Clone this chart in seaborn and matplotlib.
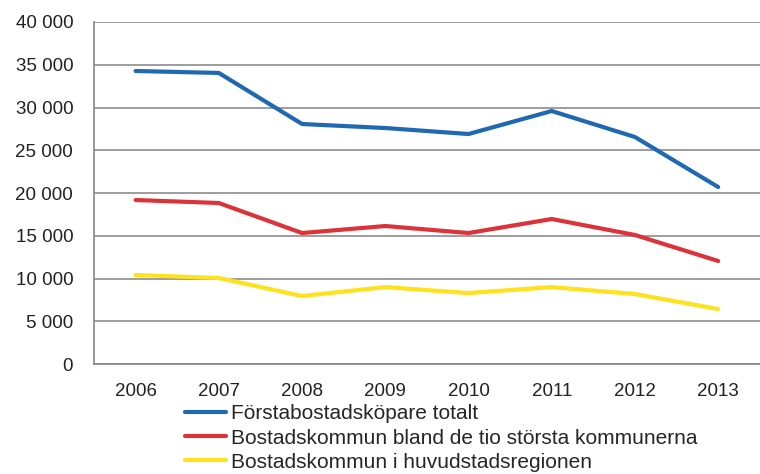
import matplotlib
matplotlib.use("Agg")
import matplotlib.pyplot as plt
import seaborn as sns
import pandas as pd
from matplotlib.ticker import FuncFormatter, FixedLocator

# Data
years = ["2006", "2007", "2008", "2009", "2010", "2011", "2012", "2013"]
totalt = [34270, 34040, 28070, 27600, 26900, 29590, 26550, 20700]
tio_storsta = [19180, 18830, 15320, 16140, 15320, 16960, 15090, 12050]
huvudstad = [10410, 10060, 7950, 9000, 8300, 9000, 8190, 6430]
series_names = [
    "Förstabostadsköpare totalt",
    "Bostadskommun bland de tio största kommunerna",
    "Bostadskommun i huvudstadsregionen",
]
COLORS = ["#1f69b3", "#dc3339", "#ffe21c"]

df = pd.DataFrame({
    "pos": list(range(len(years))) * 3,
    "value": totalt + tio_storsta + huvudstad,
    "serie": [n for n in series_names for _ in years],
})

sns.set_style("white")
plt.rcParams["font.family"] = ["Liberation Sans", "DejaVu Sans"]

fig = plt.figure(figsize=(7.6, 4.74), dpi=100)
ax = fig.add_axes([0.1237, 0.232, 0.876, 0.7216])

sns.lineplot(data=df, x="pos", y="value", hue="serie", palette=COLORS,
             hue_order=series_names, linewidth=3.0, ax=ax, legend=False)

ax.set_xlim(-0.5, len(years) - 0.5)
ax.set_ylim(0, 40000)
ax.set_yticks(range(0, 40001, 5000))
ax.yaxis.set_major_formatter(FuncFormatter(lambda v, p: f"{int(v):,}".replace(",", " ")))
ax.set_xticks(range(len(years)))
ax.set_xticklabels(years)
ax.xaxis.set_minor_locator(FixedLocator([i - 0.5 for i in range(len(years) + 1)]))
ax.tick_params(axis="x", which="major", length=0, labelsize=13.5, pad=14, colors="#222222")
ax.tick_params(axis="x", which="minor", length=4, width=1.2, color="#888888", direction="out")
ax.tick_params(axis="y", which="major", length=4, width=1.2, color="#888888", labelsize=13.5,
               pad=11, direction="out", labelcolor="#222222")
ax.set_xlabel("")
ax.set_ylabel("")
ax.grid(axis="y", color="#8c8c8c", linewidth=1.2)
ax.set_axisbelow(True)
for side in ["top", "right"]:
    ax.spines[side].set_visible(False)
for side in ["left", "bottom"]:
    ax.spines[side].set_color("#888888")
    ax.spines[side].set_linewidth(1.2)

handles = [plt.Line2D([], [], color=c, linewidth=3.0) for c in COLORS]
fig.legend(handles, series_names, loc="upper left", bbox_to_anchor=(0.243, 0.147),
           frameon=False, fontsize=15, handlelength=2.0, handletextpad=0.2,
           labelspacing=0.25, borderpad=0, borderaxespad=0)

fig.savefig("out.png", dpi=100)
